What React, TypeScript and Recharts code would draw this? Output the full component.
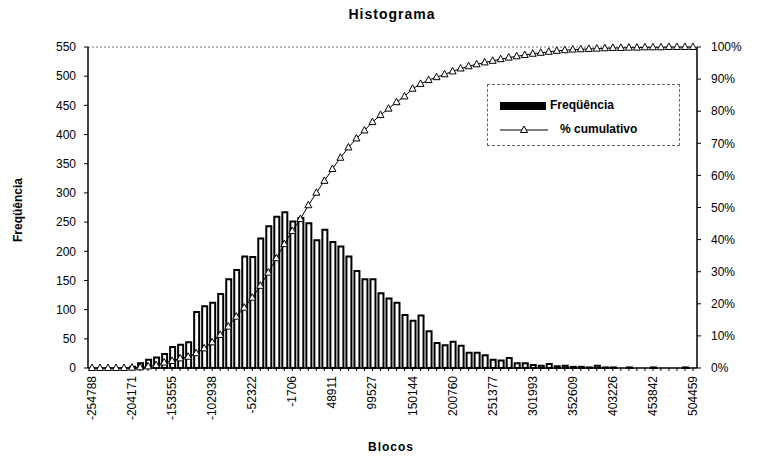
import React from "react";
import {
  ComposedChart,
  Bar,
  Line,
  XAxis,
  YAxis,
  ReferenceLine,
} from "recharts";

// Rótulos visíveis do eixo X (a cada 5 classes)
const tickLabels = [
  "-254788", "-204171", "-153555", "-102938", "-52322", "-1706", "48911", "99527",
  "150144", "200760", "251377", "301993", "352609", "403226", "453842", "504459",
];

// Freqüência por classe (76 classes)
const frequencia = [
  0, 0, 0, 0, 0, 2, 8, 14, 18, 24,
  36, 40, 44, 96, 106, 112, 127, 152, 168, 191,
  190, 222, 243, 259, 267, 251, 257, 248, 219, 237,
  216, 208, 191, 166, 152, 152, 128, 119, 112, 91,
  81, 90, 63, 43, 39, 45, 38, 26, 26, 22,
  14, 13, 17, 8, 8, 5, 4, 7, 3, 4,
  2, 2, 1, 4, 1, 1, 0, 1, 0, 0,
  1, 0, 0, 0, 1, 0,
];

// % cumulativo
const cumulativo = [
  0, 0, 0, 0, 0, 0.1, 0.2, 0.5, 0.9, 1.7,
  2.2, 3.0, 3.5, 4.6, 6.1, 8.0, 10.3, 12.9, 16.0, 18.8,
  21.9, 25.6, 29.7, 34.2, 38.6, 42.7, 46.4, 50.7, 54.6, 58.3,
  62.0, 65.5, 68.7, 71.5, 74.0, 76.6, 78.8, 80.8, 82.8, 84.6,
  87.0, 88.5, 89.7, 90.6, 91.5, 92.4, 93.3, 94.0, 94.6, 95.2,
  95.7, 96.2, 96.7, 97.1, 97.5, 97.9, 98.2, 98.5, 98.8, 99.0,
  99.2, 99.3, 99.4, 99.5, 99.6, 99.7, 99.7, 99.8, 99.8, 99.9,
  99.9, 99.9, 100, 100, 100, 100,
];

const freqTicks = [0, 50, 100, 150, 200, 250, 300, 350, 400, 450, 500, 550];
const pctTicks = [0, 10, 20, 30, 40, 50, 60, 70, 80, 90, 100];

const data = frequencia.map((f, i) => ({ idx: i, freq: f, cum: cumulativo[i] }));

const FONT = "'Liberation Sans', Arial, sans-serif";

const XTick = (props: any) => {
  const { x, y, payload } = props;
  if (payload.value % 5 !== 0) return <g />;
  return (
    <g transform={`translate(${x},${y})`}>
      <text
        x={0}
        y={0}
        dy={4}
        transform="rotate(-90)"
        textAnchor="end"
        fontSize={12}
        fontFamily={FONT}
        fill="#000"
      >
        {tickLabels[payload.value / 5]}
      </text>
    </g>
  );
};

const Triangle = (props: any) => {
  const { cx, cy, index } = props;
  if (cx == null || cy == null) return <g key={index} />;
  return (
    <path
      key={index}
      d={`M${cx},${cy - 4} L${cx + 3.5},${cy + 2.5} L${cx - 3.5},${cy + 2.5} Z`}
      fill="#fff"
      stroke="#000"
      strokeWidth={1}
    />
  );
};

const LegendBox = () => (
  <div
    style={{
      position: "absolute",
      left: 487,
      top: 84,
      width: 191,
      height: 60,
      border: "1px dashed #666",
      background: "#fff",
      fontFamily: FONT,
      fontSize: 12,
      fontWeight: "bold",
      color: "#000",
    }}
  >
    <div style={{ position: "absolute", left: 12, top: 17, width: 46, height: 8, background: "#000" }} />
    <div style={{ position: "absolute", left: 62, top: 13 }}>Freqüência</div>
    <svg style={{ position: "absolute", left: 10, top: 38 }} width={52} height={12}>
      <line x1={2} y1={7} x2={50} y2={7} stroke="#000" strokeWidth={1} />
      <path d="M26,3 L29.5,9.5 L22.5,9.5 Z" fill="#fff" stroke="#000" />
    </svg>
    <div style={{ position: "absolute", left: 72, top: 37 }}>% cumulativo</div>
  </div>
);

export default function App() {
  return (
    <div style={{ position: "absolute", left: 0, top: 0, width: 759, height: 462, background: "#fff" }}>
      <ComposedChart
        width={759}
        height={462}
        data={data}
        margin={{ top: 47, right: 0, bottom: 0, left: 0 }}
        barCategoryGap={0}
        style={{ position: "absolute", left: 0, top: 0 }}
      >
        <XAxis
          dataKey="idx"
          type="category"
          interval={0}
          tick={<XTick />}
          tickSize={3}
          tickMargin={5}
          height={94}
          axisLine={{ stroke: "#000", strokeWidth: 1.5 }}
          tickLine={{ stroke: "#000" }}
        />
        <YAxis
          yAxisId="left"
          domain={[0, 550]}
          ticks={freqTicks}
          width={88}
          tickSize={4}
          tickMargin={8}
          interval={0}
          tick={{ fontSize: 12, fontFamily: FONT, fill: "#000" }}
          axisLine={{ stroke: "#000", strokeWidth: 1.5 }}
          tickLine={{ stroke: "#000" }}
        />
        <YAxis
          yAxisId="right"
          orientation="right"
          domain={[0, 100]}
          ticks={pctTicks}
          width={62}
          tickSize={4}
          tickMargin={10}
          interval={0}
          tickFormatter={(v: number) => `${v}%`}
          tick={{ fontSize: 12, fontFamily: FONT, fill: "#000", textAnchor: "start" }}
          axisLine={{ stroke: "#000", strokeWidth: 1.5 }}
          tickLine={{ stroke: "#000" }}
        />
        <ReferenceLine yAxisId="left" y={550} stroke="#777" strokeDasharray="2 2" />
        <Bar
          yAxisId="left"
          dataKey="freq"
          barSize={5}
          fill="#fff"
          stroke="#000"
          strokeWidth={2}
          isAnimationActive={false}
        />
        <Line
          yAxisId="right"
          dataKey="cum"
          stroke="#000"
          strokeWidth={1}
          dot={<Triangle />}
          activeDot={false}
          isAnimationActive={false}
        />
      </ComposedChart>
      <LegendBox />
      <div
        style={{
          position: "absolute",
          left: 0,
          width: 784,
          top: 6,
          textAlign: "center",
          fontFamily: FONT,
          fontWeight: "bold",
          fontSize: 14,
          letterSpacing: 1,
        }}
      >
        Histograma
      </div>
      <div
        style={{
          position: "absolute",
          left: 18,
          top: 210,
          transform: "translate(-50%, -50%) rotate(-90deg)",
          fontFamily: FONT,
          fontWeight: "bold",
          fontSize: 12,
          whiteSpace: "nowrap",
        }}
      >
        Freqüência
      </div>
      <div
        style={{
          position: "absolute",
          left: 391,
          top: 447,
          transform: "translate(-50%, -50%)",
          fontFamily: FONT,
          fontWeight: "bold",
          fontSize: 12,
          letterSpacing: 1,
        }}
      >
        Blocos
      </div>
    </div>
  );
}
